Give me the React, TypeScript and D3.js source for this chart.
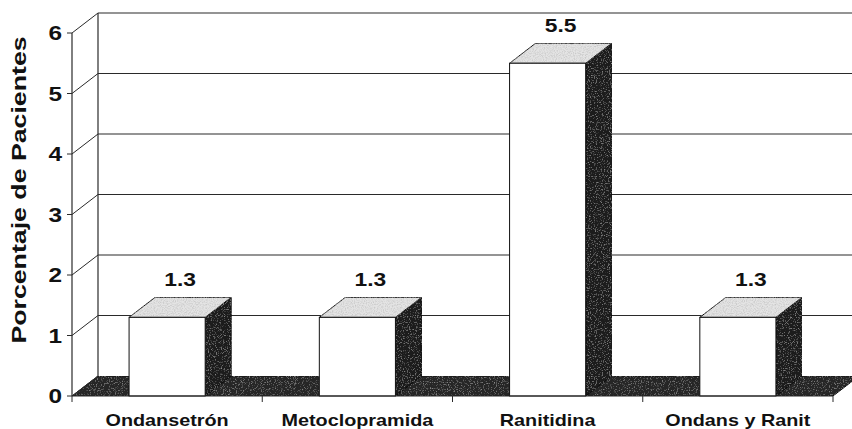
import React from "react";
import * as d3 from "d3";

// Percentage of patients per treatment
const categories = ["Ondansetrón", "Metoclopramida", "Ranitidina", "Ondans y Ranit"];
const values = [1.3, 1.3, 5.5, 1.3];
const yTicks = [0, 1, 2, 3, 4, 5, 6];
const yTitle = "Porcentaje de Pacientes";

const W = 852;
const H = 429;
const left = 72;
const right = 833;
const top = 33;
const bottom = 396;
// perspective offset of the back plane
const DX = 26;
const DY = -20;

const FONT = "'Liberation Sans', Arial, sans-serif";
const LINE = "#2a2a2a";

export default function App() {
  const y = d3.scaleLinear().domain([0, 6]).range([bottom, top]);
  const x = d3.scaleBand<string>().domain(categories).range([left, right]).paddingInner(0.6).paddingOuter(0.3);
  const step = x.step();
  const bw = x.bandwidth();

  const pts = (p: [number, number][]) => p.map((d) => d.join(",")).join(" ");

  return (
    <svg width={W} height={H} style={{ position: "absolute", left: 0, top: 0, background: "#fff" }}>
      <defs>
        <filter id="grainLight" x="0" y="0" width="1" height="1">
          <feTurbulence type="fractalNoise" baseFrequency="0.9" numOctaves="2" seed="3" result="n" />
          <feColorMatrix in="n" type="matrix"
            values="0 0 0 0 0.45  0 0 0 0 0.45  0 0 0 0 0.45  0 0 0 -1.4 0.85" result="d" />
          <feComposite in="d" in2="SourceGraphic" operator="in" result="dc" />
          <feMerge>
            <feMergeNode in="SourceGraphic" />
            <feMergeNode in="dc" />
          </feMerge>
        </filter>
        <filter id="grainDark" x="0" y="0" width="1" height="1">
          <feTurbulence type="fractalNoise" baseFrequency="0.85" numOctaves="2" seed="7" result="n" />
          <feColorMatrix in="n" type="matrix"
            values="0 0 0 0 0.6  0 0 0 0 0.6  0 0 0 0 0.6  0 0 0 1.3 -0.72" result="w" />
          <feComposite in="w" in2="SourceGraphic" operator="in" result="wc" />
          <feMerge>
            <feMergeNode in="SourceGraphic" />
            <feMergeNode in="wc" />
          </feMerge>
        </filter>
      </defs>

      {/* back wall gridlines and side wall diagonals */}
      {yTicks.filter((t) => t > 0).map((t) => (
        <g key={t}>
          <line x1={left + DX} x2={right + DX} y1={y(t) + DY} y2={y(t) + DY} stroke={LINE} strokeWidth={1.2} />
          <line x1={left} x2={left + DX} y1={y(t)} y2={y(t) + DY} stroke={LINE} strokeWidth={1} />
        </g>
      ))}
      <line x1={left + DX} x2={left + DX} y1={y(6) + DY} y2={y(0) + DY} stroke={LINE} strokeWidth={1.2} />

      {/* floor */}
      <polygon
        points={pts([[left, bottom], [right, bottom], [right + DX, bottom + DY], [left + DX, bottom + DY]])}
        fill="#262626"
        stroke="#111"
        strokeWidth={1}
        filter="url(#grainDark)"
      />

      {/* bars */}
      {categories.map((c, i) => {
        const x0 = x(c)!;
        const x1 = x0 + bw;
        const yt = y(values[i]);
        return (
          <g key={c}>
            <polygon
              points={pts([[x1, bottom], [x1 + DX, bottom + DY], [x1 + DX, yt + DY], [x1, yt]])}
              fill="#1a1a1a"
              stroke="#111"
              strokeWidth={1}
              filter="url(#grainDark)"
            />
            <polygon
              points={pts([[x0, yt], [x1, yt], [x1 + DX, yt + DY], [x0 + DX, yt + DY]])}
              fill="#e4e4e4"
              stroke="#111"
              strokeWidth={1}
              filter="url(#grainLight)"
            />
            <rect x={x0} y={yt} width={bw} height={bottom - yt} fill="#fff" stroke="#111" strokeWidth={1} />
            <text
              transform={`translate(${x0 + bw / 2 + DX / 2},${yt + DY - 11}) scale(1.2,1)`}
              textAnchor="middle"
              fontFamily={FONT}
              fontWeight="bold"
              fontSize={19}
              fill="#111"
            >
              {values[i].toFixed(1)}
            </text>
          </g>
        );
      })}

      {/* front value axis */}
      <line x1={left} x2={left} y1={y(6)} y2={bottom} stroke={LINE} strokeWidth={1.2} />
      {yTicks.map((t) => (
        <g key={t}>
          <line x1={left - 5} x2={left} y1={y(t)} y2={y(t)} stroke={LINE} strokeWidth={1} />
          <text
            transform={`translate(${left - 10},${y(t) + 7}) scale(1.25,1)`}
            textAnchor="end"
            fontFamily={FONT}
            fontWeight="bold"
            fontSize={19.5}
            fill="#111"
          >
            {t}
          </text>
        </g>
      ))}
      {/* left floor diagonal */}
      <line x1={left} x2={left + DX} y1={bottom} y2={bottom + DY} stroke={LINE} strokeWidth={1} />

      {/* front category axis */}
      <line x1={left} x2={right} y1={bottom} y2={bottom} stroke={LINE} strokeWidth={1.2} />
      {d3.range(categories.length + 1).map((k) => (
        <line key={k} x1={left + k * step} x2={left + k * step} y1={bottom} y2={bottom + 6} stroke={LINE} strokeWidth={1} />
      ))}
      {categories.map((c) => (
        <text
          key={c}
          transform={`translate(${x(c)! + bw / 2},${bottom + 29.5}) scale(1.2,1)`}
          textAnchor="middle"
          fontFamily={FONT}
          fontWeight="bold"
          fontSize={16.5}
          fill="#111"
        >
          {c}
        </text>
      ))}

      {/* value axis title */}
      <text
        transform={`translate(26,${190}) rotate(-90) scale(1.37,1)`}
        textAnchor="middle"
        fontFamily={FONT}
        fontWeight="bold"
        fontSize={19.5}
        fill="#111"
      >
        {yTitle}
      </text>
    </svg>
  );
}
